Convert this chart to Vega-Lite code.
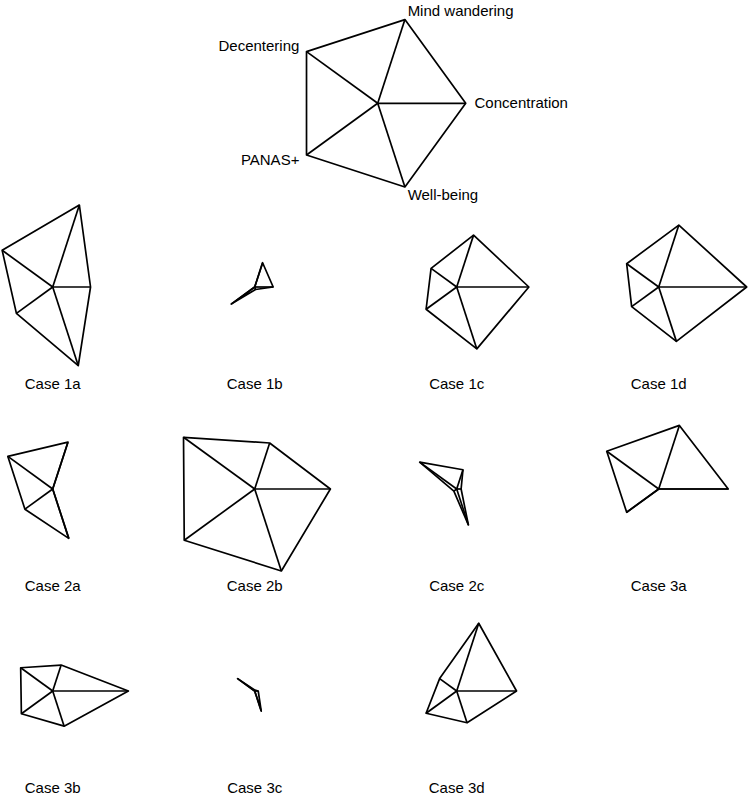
{
  "$schema": "https://vega.github.io/schema/vega-lite/v6.json",
  "padding": 0,
  "spacing": 0,
  "bounds": "flush",
  "background": "white",
  "config": {
    "view": {"stroke": null},
    "text": {"font": "Liberation Sans", "fontSize": 15, "color": "black"},
    "header": {"labels": false, "title": null, "labelFontSize": 0, "labelColor": "transparent"},
    "headerFacet": {"labels": false, "title": null, "labelFontSize": 0, "labelColor": "transparent"}
  },
  "datasets": {
    "key": [
      {"var": "Concentration", "value": 1},
      {"var": "Mind wandering", "value": 1},
      {"var": "Decentering", "value": 1},
      {"var": "PANAS+", "value": 1},
      {"var": "Well-being", "value": 1}
    ],
    "cases": [
      {"case": "Case 1a", "var": "Concentration", "value": 0.43},
      {"case": "Case 1a", "var": "Mind wandering", "value": 0.98},
      {"case": "Case 1a", "var": "Decentering", "value": 0.71},
      {"case": "Case 1a", "var": "PANAS+", "value": 0.51},
      {"case": "Case 1a", "var": "Well-being", "value": 0.94},
      {"case": "Case 1b", "var": "Concentration", "value": 0.21},
      {"case": "Case 1b", "var": "Mind wandering", "value": 0.29},
      {"case": "Case 1b", "var": "Decentering", "value": 0.0},
      {"case": "Case 1b", "var": "PANAS+", "value": 0.33},
      {"case": "Case 1b", "var": "Well-being", "value": 0.03},
      {"case": "Case 1c", "var": "Concentration", "value": 0.82},
      {"case": "Case 1c", "var": "Mind wandering", "value": 0.62},
      {"case": "Case 1c", "var": "Decentering", "value": 0.36},
      {"case": "Case 1c", "var": "PANAS+", "value": 0.43},
      {"case": "Case 1c", "var": "Well-being", "value": 0.74},
      {"case": "Case 1d", "var": "Concentration", "value": 1.0},
      {"case": "Case 1d", "var": "Mind wandering", "value": 0.74},
      {"case": "Case 1d", "var": "Decentering", "value": 0.45},
      {"case": "Case 1d", "var": "PANAS+", "value": 0.38},
      {"case": "Case 1d", "var": "Well-being", "value": 0.65},
      {"case": "Case 2a", "var": "Concentration", "value": 0.0},
      {"case": "Case 2a", "var": "Mind wandering", "value": 0.56},
      {"case": "Case 2a", "var": "Decentering", "value": 0.63},
      {"case": "Case 2a", "var": "PANAS+", "value": 0.39},
      {"case": "Case 2a", "var": "Well-being", "value": 0.59},
      {"case": "Case 2b", "var": "Concentration", "value": 0.86},
      {"case": "Case 2b", "var": "Mind wandering", "value": 0.55},
      {"case": "Case 2b", "var": "Decentering", "value": 1.0},
      {"case": "Case 2b", "var": "PANAS+", "value": 0.99},
      {"case": "Case 2b", "var": "Well-being", "value": 0.98},
      {"case": "Case 2c", "var": "Concentration", "value": 0.05},
      {"case": "Case 2c", "var": "Mind wandering", "value": 0.23},
      {"case": "Case 2c", "var": "Decentering", "value": 0.52},
      {"case": "Case 2c", "var": "PANAS+", "value": 0.04},
      {"case": "Case 2c", "var": "Well-being", "value": 0.43},
      {"case": "Case 3a", "var": "Concentration", "value": 0.79},
      {"case": "Case 3a", "var": "Mind wandering", "value": 0.76},
      {"case": "Case 3a", "var": "Decentering", "value": 0.73},
      {"case": "Case 3a", "var": "PANAS+", "value": 0.45},
      {"case": "Case 3a", "var": "Well-being", "value": 0.0},
      {"case": "Case 3b", "var": "Concentration", "value": 0.86},
      {"case": "Case 3b", "var": "Mind wandering", "value": 0.31},
      {"case": "Case 3b", "var": "Decentering", "value": 0.45},
      {"case": "Case 3b", "var": "PANAS+", "value": 0.44},
      {"case": "Case 3b", "var": "Well-being", "value": 0.42},
      {"case": "Case 3c", "var": "Concentration", "value": 0.04},
      {"case": "Case 3c", "var": "Mind wandering", "value": 0.01},
      {"case": "Case 3c", "var": "Decentering", "value": 0.24},
      {"case": "Case 3c", "var": "PANAS+", "value": 0.0},
      {"case": "Case 3c", "var": "Well-being", "value": 0.24},
      {"case": "Case 3d", "var": "Concentration", "value": 0.68},
      {"case": "Case 3d", "var": "Mind wandering", "value": 0.81},
      {"case": "Case 3d", "var": "Decentering", "value": 0.24},
      {"case": "Case 3d", "var": "PANAS+", "value": 0.43},
      {"case": "Case 3d", "var": "Well-being", "value": 0.38}
    ]
  },
  "vconcat": [
    {
      "data": {"name": "key"},
      "width": 749,
      "height": 186,
      "transform": [
        {"calculate": "indexof(['Concentration','Mind wandering','Decentering','PANAS+','Well-being'], datum.var)", "as": "k"},
        {"calculate": "datum.value * cos(datum.k * 2 * PI / 5)", "as": "x"},
        {"calculate": "datum.value * sin(datum.k * 2 * PI / 5)", "as": "y"},
        {"calculate": "1.1 * cos(datum.k * 2 * PI / 5)", "as": "lx"},
        {"calculate": "1.1 * sin(datum.k * 2 * PI / 5)", "as": "ly"}
      ],
      "encoding": {
        "x": {"field": "x", "type": "quantitative", "axis": null, "scale": {"domain": [-4.292, 4.219], "nice": false, "zero": false}},
        "y": {"field": "y", "type": "quantitative", "axis": null, "scale": {"domain": [-0.9398, 1.1739], "nice": false, "zero": false}}
      },
      "layer": [
        {
          "mark": {"type": "line", "interpolate": "linear-closed", "color": "black", "strokeWidth": 1.7, "strokeJoin": "round"},
          "encoding": {"order": {"field": "k", "type": "quantitative"}}
        },
        {
          "mark": {"type": "rule", "color": "black", "strokeWidth": 1.7},
          "encoding": {"x2": {"datum": 0}, "y2": {"datum": 0}}
        },
        {
          "transform": [{"filter": "datum.lx > 0"}],
          "mark": {"type": "text", "align": "left", "baseline": "middle"},
          "encoding": {
            "x": {"field": "lx", "type": "quantitative"},
            "y": {"field": "ly", "type": "quantitative"},
            "text": {"field": "var"}
          }
        },
        {
          "transform": [{"filter": "datum.lx < 0"}],
          "mark": {"type": "text", "align": "right", "baseline": "middle"},
          "encoding": {
            "x": {"field": "lx", "type": "quantitative"},
            "y": {"field": "ly", "type": "quantitative"},
            "text": {"field": "var"}
          }
        }
      ]
    },
    {
      "data": {"name": "cases"},
      "transform": [
        {"calculate": "indexof(['Concentration','Mind wandering','Decentering','PANAS+','Well-being'], datum.var)", "as": "k"},
        {"calculate": "datum.value * cos(datum.k * 2 * PI / 5)", "as": "x"},
        {"calculate": "datum.value * sin(datum.k * 2 * PI / 5)", "as": "y"}
      ],
      "facet": {"field": "case", "type": "nominal", "title": null, "header": {"labels": false, "title": null, "labelExpr": "''", "labelFontSize": 0, "labelColor": "transparent"}},
      "columns": 4,
      "spacing": {"row": 0, "column": 60},
      "bounds": "flush",
      "spec": {
        "width": 142,
        "height": 202,
        "encoding": {
          "x": {"field": "x", "type": "quantitative", "axis": null, "scale": {"domain": [-0.599, 1.0148], "nice": false, "zero": false}},
          "y": {"field": "y", "type": "quantitative", "axis": null, "scale": {"domain": [-1.148, 1.148], "nice": false, "zero": false}}
        },
        "layer": [
          {
            "mark": {"type": "line", "interpolate": "linear-closed", "color": "black", "strokeWidth": 1.7, "strokeJoin": "round"},
            "encoding": {"order": {"field": "k", "type": "quantitative"}}
          },
          {
            "mark": {"type": "rule", "color": "black", "strokeWidth": 1.7},
            "encoding": {"x2": {"datum": 0}, "y2": {"datum": 0}}
          },
          {
            "transform": [{"filter": "datum.k == 0"}],
            "mark": {"type": "text", "align": "center", "baseline": "alphabetic"},
            "encoding": {
              "x": {"datum": 0},
              "y": {"datum": -1.155},
              "text": {"field": "case"}
            }
          }
        ]
      }
    }
  ]
}
